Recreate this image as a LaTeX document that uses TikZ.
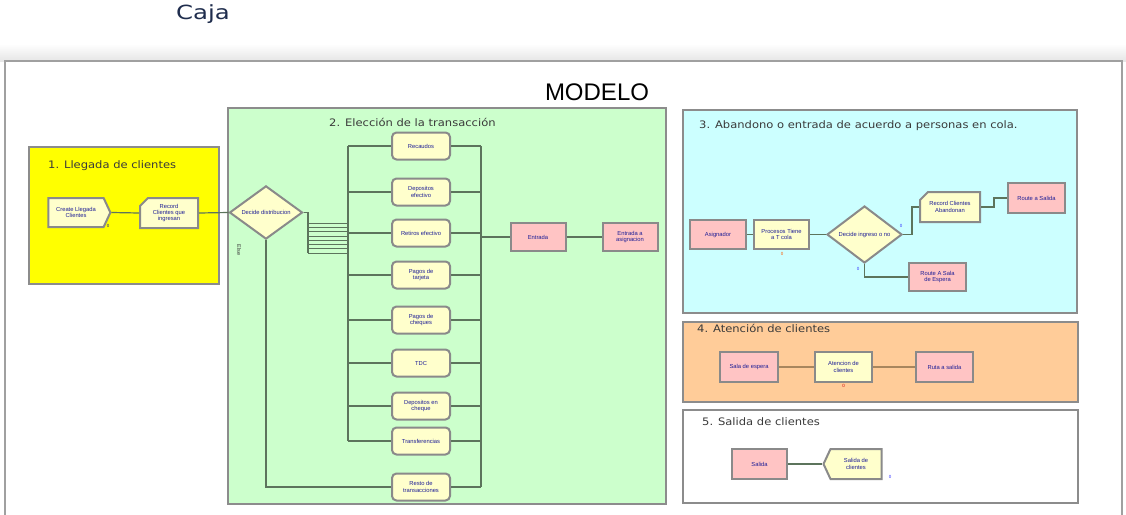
\documentclass[tikz,border=0pt]{standalone}
\usepackage{fontspec}
\setmainfont{DejaVu Sans}
\newfontfamily\arialf{Liberation Sans}
\newfontfamily\widef[FakeStretch=1.12]{DejaVu Sans}
\newfontfamily\cajaf[FakeStretch=1.25]{DejaVu Sans}
\usetikzlibrary{shapes.geometric,shapes.symbols,shapes.misc,calc}
\definecolor{ylw}{HTML}{FFFF00}
\definecolor{grn}{HTML}{CCFFCC}
\definecolor{cyn}{HTML}{CCFFFF}
\definecolor{org}{HTML}{FFCC99}
\definecolor{modfill}{HTML}{FFFFCC}
\definecolor{pinkfill}{HTML}{FFC4C4}
\definecolor{modedge}{HTML}{8A8A8A}
\definecolor{regedge}{HTML}{8C8C8C}
\definecolor{wirecol}{HTML}{5C745C}
\definecolor{wireorg}{HTML}{A8865E}
\definecolor{modtext}{HTML}{1E1E96}
\definecolor{titlecol}{HTML}{3A3A3A}
\definecolor{cajacol}{HTML}{1F2D4D}
\definecolor{framecol}{HTML}{A0A0A0}
\newcommand{\modfont}{\arialf\fontsize{5.8}{6.2}\selectfont}
\newcommand{\ttlfont}{\widef\fontsize{10.3}{11}\selectfont}
\tikzset{
  region/.style={draw=regedge, line width=1.5pt},
  mod/.style={draw=modedge, line width=2pt, fill=modfill, minimum width=57pt, minimum height=28pt, inner sep=1pt, align=center, text=modtext, font=\modfont},
  proc/.style={mod, rounded corners=4.5pt},
  pinkmod/.style={mod, fill=pinkfill},
  createmod/.style={mod, signal, signal to=east, signal from=nowhere, signal pointer angle=130},
  disposemod/.style={mod, signal, signal to=west, signal from=nowhere, signal pointer angle=130},
  recordmod/.style={mod, chamfered rectangle, chamfered rectangle corners=north west, chamfered rectangle xsep=4pt, chamfered rectangle ysep=4pt},
  decide/.style={mod, diamond, minimum width=73pt, minimum height=43pt, inner sep=0pt},
  wire/.style={draw=wirecol, line width=1.2pt},
  owire/.style={draw=wireorg, line width=1.5pt},
  sectitle/.style={font=\ttlfont, text=titlecol, anchor=west, inner sep=0pt},
  tinylbl/.style={font=\arialf\fontsize{4.5}{5}\selectfont, inner sep=0pt}
}
\begin{document}
\begin{tikzpicture}[x=1pt,y=-1pt]
\useasboundingbox (0,0) rectangle (1126,514);
\fill[white] (0,0) rectangle (1126,514);
\shade[top color=white, bottom color=black!10] (0,44) rectangle (1126,61);
\node[font=\cajaf\fontsize{19.5}{22}\selectfont, text=cajacol] (caja) at (203,14) {Caja};
% outer frame
\draw[draw=framecol, line width=1.3pt, fill=white] (5,61) rectangle (1122,520);
\node[font=\arialf\fontsize{24}{26}\selectfont] (modelo) at (597,92) {MODELO};

% regions
\draw[region, fill=ylw] (29,147) rectangle (219,284);
\draw[region, fill=grn] (228,108) rectangle (666,504);
\draw[region, fill=cyn] (683,110) rectangle (1077,313);
\draw[region, fill=org] (683,322) rectangle (1078,402);
\draw[region, fill=white] (683,410) rectangle (1078,503);

\node[sectitle] (t1) at (48,166) {1. Llegada de clientes};
\node[sectitle] (t2) at (329,122) {2. Elección de la transacción};
\node[sectitle] (t3) at (699,126) {3. Abandono o entrada de acuerdo a personas en cola.};
\node[sectitle] (t4) at (697,328) {4. Atención de clientes};
\node[sectitle] (t5) at (702,422) {5. Salida de clientes};

% 1. Llegada
\node[createmod, minimum width=62pt, minimum height=29pt] (create) at (76,212.5) {Create Llegada\\Clientes};
\node[recordmod, minimum width=58pt, minimum height=30pt] (rec1) at (169,213) {Record\\Clientes que\\ingresan};
\node[tinylbl, text=modtext] (c0) at (108,226) {0};
\draw[wire] (create.east) -- (rec1.west);

% 2. Eleccion
\node[decide] (d1) at (266,212.5) {Decide distribucion};
\draw[wire] (rec1.east) -- (d1.west);
\node[tinylbl, rotate=-90, text=titlecol, font=\arialf\fontsize{5.5}{6}\selectfont] (else) at (239,250) {Else};

\coordinate (lbus) at (348,0);
\coordinate (rbus) at (481,0);
\coordinate (fanx) at (308,0);
\foreach \i/\y/\t in {1/146/Recaudos, 2/192/Depositos\\efectivo, 3/233/Retiros efectivo, 4/275/Pagos de\\tarjeta, 5/320/Pagos de\\cheques, 6/363/TDC, 7/406/Depositos en\\cheque, 8/441/Transferencias, 9/487/Resto de\\transacciones}{
  \node[proc, minimum width=58pt, minimum height=27pt] (p\i) at (421,\y) {\t};
}
\foreach \i in {1,...,8}{
  \draw[wire] (p\i.west -| lbus) -- (p\i.west);
}
\foreach \i in {1,...,9}{
  \draw[wire] (p\i.east) -- (p\i.east -| rbus);
}
\draw[wire] (p1.west -| lbus) -- (p8.west -| lbus);
\draw[wire] (p1.east -| rbus) -- (p9.east -| rbus);
\coordinate (fantop) at (d1.east -| fanx);
\coordinate (fanbot) at (308,253);
\draw[wire] (d1.east) -- (fantop) -- (fanbot);
\foreach \y in {223,227.3,231.6,235.9,240.1,244.4,248.7,253}{
  \draw[wire, line width=0.8pt] (308,\y) -- (348,\y);
}
\draw[wire] (d1.south) -- (d1.south |- p9.west) -- (p9.west);

\node[pinkmod, minimum width=55pt] (entrada) at (538,237) {Entrada};
\node[pinkmod, minimum width=55pt] (entasig) at (630,237) {Entrada a\\asignacion};
\draw[wire] (entrada.west -| rbus) -- (entrada.west);
\draw[wire] (entrada.east) -- (entasig.west);

% 3. Abandono
\node[pinkmod, minimum width=56pt, minimum height=29pt] (asig) at (718,234.5) {Asignador};
\node[mod, minimum width=55pt, minimum height=29pt] (procs) at (781.5,234.5) {Procesos Tiene\\a T cola};
\node[tinylbl, text=orange!70!red] (pr0) at (782,254) {0};
\node[decide, minimum width=75pt] (d2) at (864.5,234.5) {Decide ingreso o no};
\node[recordmod, minimum width=60pt, minimum height=30pt] (recab) at (950,207) {Record Clientes\\Abandonan};
\node[pinkmod, minimum width=57pt, minimum height=30pt] (rsal) at (1036.5,198) {Route a Salida};
\node[pinkmod, minimum width=57pt, minimum height=28pt] (rsala) at (937.5,277) {Route A Sala\\de Espera};
\node[tinylbl, text=blue!80] (dT) at (901,226) {0};
\node[tinylbl, text=blue!80] (dF) at (858,269) {0};
\draw[wire] (asig.east) -- (procs.west);
\draw[wire] (procs.east) -- (d2.west);
\coordinate (d2x) at (912,0);
\draw[wire] (d2.east) -- (d2.east -| d2x) |- (recab.west);
\draw[wire] (recab.east) -- ++(13,0) |- (rsal.west);
\draw[wire] (d2.south) |- (rsala.west);

% 4. Atencion
\node[pinkmod, minimum width=58pt, minimum height=30pt] (sala) at (749,367) {Sala de espera};
\node[mod, minimum width=57pt, minimum height=30pt] (aten) at (843.5,367) {Atencion de\\clientes};
\node[pinkmod, minimum width=57pt, minimum height=30pt] (ruta) at (944.5,367) {Ruta a salida};
\node[tinylbl, text=red!80!black] (at0) at (843.5,386) {0};
\draw[owire] (sala.east) -- (aten.west);
\draw[owire] (aten.east) -- (ruta.west);

% 5. Salida
\node[pinkmod, minimum width=55pt, minimum height=30pt] (salida) at (759.5,464) {Salida};
\node[disposemod, minimum width=58pt, minimum height=30pt] (dispose) at (856,464) {Salida de\\clientes};
\node[tinylbl, text=blue!80] (ds0) at (890,477) {0};
\draw[wire] (salida.east) -- (dispose.west);
\end{tikzpicture}
\end{document}
